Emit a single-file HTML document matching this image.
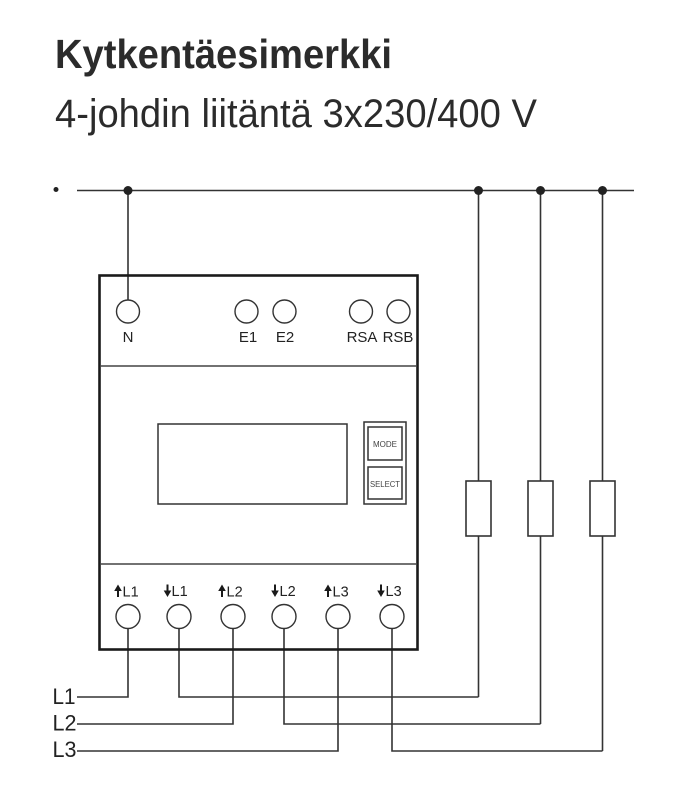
<!DOCTYPE html>
<html>
<head>
<meta charset="utf-8">
<style>
  html, body { margin:0; padding:0; background:#fff; }
  svg { display:block; }
</style>
</head>
<body>
<svg width="686" height="800" viewBox="0 0 686 800" xmlns="http://www.w3.org/2000/svg">
  <rect width="686" height="800" fill="#fff"/>
  <!-- Titles -->
  <text x="55" y="68" font-family="Liberation Sans, sans-serif" font-weight="bold" font-size="41" fill="#2b2b2b" textLength="337" lengthAdjust="spacingAndGlyphs">Kytkentäesimerkki</text>
  <text x="55" y="127" font-family="Liberation Sans, sans-serif" font-size="40" fill="#2b2b2b" textLength="482" lengthAdjust="spacingAndGlyphs">4-johdin liitäntä 3x230/400 V</text>

  <g stroke="#333" stroke-width="1.6" fill="none">
    <!-- top bus -->
    <line x1="77" y1="190.5" x2="634" y2="190.5"/>
    <!-- N wire -->
    <line x1="128" y1="190.5" x2="128" y2="300"/>
    <!-- resistor wires -->
    <line x1="478.5" y1="190.5" x2="478.5" y2="481"/>
    <line x1="478.5" y1="536" x2="478.5" y2="697"/>
    <line x1="540.5" y1="190.5" x2="540.5" y2="481"/>
    <line x1="540.5" y1="536" x2="540.5" y2="724"/>
    <line x1="602.5" y1="190.5" x2="602.5" y2="481"/>
    <line x1="602.5" y1="536" x2="602.5" y2="751"/>
    <!-- resistors -->
    <rect x="466" y="481" width="25" height="55"/>
    <rect x="528" y="481" width="25" height="55"/>
    <rect x="590" y="481" width="25" height="55"/>

    <!-- bottom wires -->
    <polyline points="128,628.5 128,697 77,697"/>
    <polyline points="179,628.5 179,697 478.5,697"/>
    <polyline points="233,628.5 233,724 77,724"/>
    <polyline points="284,628.5 284,724 540.5,724"/>
    <polyline points="338,628.5 338,751 77,751"/>
    <polyline points="392,628.5 392,751 602.5,751"/>
  </g>

  <!-- dots -->
  <circle cx="56" cy="189.5" r="2.5" fill="#222"/>
  <circle cx="128" cy="190.5" r="4.5" fill="#222"/>
  <circle cx="478.5" cy="190.5" r="4.5" fill="#222"/>
  <circle cx="540.5" cy="190.5" r="4.5" fill="#222"/>
  <circle cx="602.5" cy="190.5" r="4.5" fill="#222"/>

  <!-- meter box -->
  <rect x="99.5" y="275.5" width="318" height="374" fill="none" stroke="#1a1a1a" stroke-width="2.6"/>
  <line x1="100" y1="366" x2="417" y2="366" stroke="#444" stroke-width="1.5"/>
  <line x1="100" y1="564" x2="417" y2="564" stroke="#444" stroke-width="1.5"/>

  <!-- top terminals -->
  <g stroke="#333" stroke-width="1.4" fill="#fff">
    <circle cx="128" cy="311.5" r="11.5"/>
    <circle cx="246.5" cy="311.5" r="11.5"/>
    <circle cx="284.5" cy="311.5" r="11.5"/>
    <circle cx="361" cy="311.5" r="11.5"/>
    <circle cx="398.5" cy="311.5" r="11.5"/>
  </g>
  <g font-family="Liberation Sans, sans-serif" font-size="15" fill="#222" text-anchor="middle">
    <text x="128" y="342">N</text>
    <text x="248" y="342">E1</text>
    <text x="285" y="342">E2</text>
    <text x="362" y="342">RSA</text>
    <text x="398" y="342">RSB</text>
  </g>

  <!-- display -->
  <rect x="158" y="424" width="189" height="80" fill="none" stroke="#333" stroke-width="1.5"/>
  <rect x="364" y="422" width="42" height="82" fill="none" stroke="#333" stroke-width="1.5"/>
  <rect x="368" y="427" width="34" height="33" fill="none" stroke="#333" stroke-width="1.5"/>
  <rect x="368" y="467" width="34" height="32" fill="none" stroke="#333" stroke-width="1.5"/>
  <text x="385" y="447" font-family="Liberation Sans, sans-serif" font-size="8" fill="#444" text-anchor="middle" textLength="24" lengthAdjust="spacingAndGlyphs">MODE</text>
  <text x="385" y="487" font-family="Liberation Sans, sans-serif" font-size="8" fill="#444" text-anchor="middle" textLength="30" lengthAdjust="spacingAndGlyphs">SELECT</text>

  <!-- bottom terminals -->
  <g stroke="#333" stroke-width="1.4" fill="#fff">
    <circle cx="128" cy="616.5" r="12"/>
    <circle cx="179" cy="616.5" r="12"/>
    <circle cx="233" cy="616.5" r="12"/>
    <circle cx="284" cy="616.5" r="12"/>
    <circle cx="338" cy="616.5" r="12"/>
    <circle cx="392" cy="616.5" r="12"/>
  </g>

  <!-- arrows -->
  <g fill="#1a1a1a">
    <!-- up arrows -->
    <path d="M118,584.5 L121.8,591 L119,591 L119,597 L117,597 L117,591 L114.2,591 Z"/>
    <path d="M222,584.5 L225.8,591 L223,591 L223,597 L221,597 L221,591 L218.2,591 Z"/>
    <path d="M328,584.5 L331.8,591 L329,591 L329,597 L327,597 L327,591 L324.2,591 Z"/>
    <!-- down arrows -->
    <path d="M167.5,597 L163.7,590.5 L166.5,590.5 L166.5,584.5 L168.5,584.5 L168.5,590.5 L171.3,590.5 Z"/>
    <path d="M275,597 L271.2,590.5 L274,590.5 L274,584.5 L276,584.5 L276,590.5 L278.8,590.5 Z"/>
    <path d="M381,597 L377.2,590.5 L380,590.5 L380,584.5 L382,584.5 L382,590.5 L384.8,590.5 Z"/>
  </g>
  <g font-family="Liberation Sans, sans-serif" font-size="14.5" fill="#222">
    <text x="122.5" y="596.5">L1</text>
    <text x="171.5" y="596">L1</text>
    <text x="226.5" y="596.5">L2</text>
    <text x="279.5" y="596">L2</text>
    <text x="332.5" y="596.5">L3</text>
    <text x="385.5" y="596">L3</text>
  </g>

  <!-- phase labels -->
  <g font-family="Liberation Sans, sans-serif" font-size="22" fill="#222">
    <text x="52.5" y="704" textLength="23" lengthAdjust="spacingAndGlyphs">L1</text>
    <text x="52.5" y="730.5" textLength="24" lengthAdjust="spacingAndGlyphs">L2</text>
    <text x="52.5" y="757" textLength="24" lengthAdjust="spacingAndGlyphs">L3</text>
  </g>
</svg>
</body>
</html>
